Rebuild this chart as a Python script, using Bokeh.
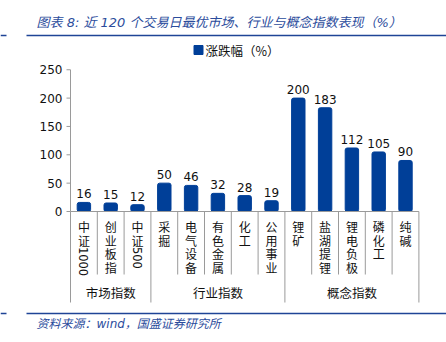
from bokeh.plotting import figure
from bokeh.models import Range1d
from bokeh.core.properties import value
from bokeh.embed import file_html
from bokeh.resources import INLINE

# ---- data ----
categories = ["中证1000", "创业板指", "中证500", "采掘", "电气设备", "有色金属", "化工",
              "公用事业", "锂矿", "盐湖提锂", "锂电负极", "磷化工", "纯碱"]
changes = [16, 15, 12, 50, 46, 32, 28, 19, 200, 183, 112, 105, 90]
groups = ["市场指数", "行业指数", "概念指数"]
group_sizes = [3, 5, 5]
y_ticks = [0, 50, 100, 150, 200, 250]
title_text = "图表 8:  近 120 个交易日最优市场、行业与概念指数表现（%）"
legend_text = "涨跌幅（%）"
source_text = "资料来源：wind，国盛证券研究所"

# ---- layout (pixel geometry) ----
W, H = 446, 342
SX = 26.8      # px per category slot
X0 = 83.4      # px of first category centre
PY = 0.567     # px per value unit
Y0 = 211.0     # px of value 0
CH = 13.6      # px per stacked character

def X(px):
    return (px - X0) / SX

def Y(py):
    return (Y0 - py) / PY

BAR = "#003f98"
AXIS = "#9a9a9a"
BLUE_T = "#2b4c9c"
BLUE_L = "#1f4496"
CJK = value("Noto Sans CJK SC")
NUM = value("DejaVu Sans")
MIX = value("DejaVu Sans, Noto Sans CJK SC")

p = figure(width=W, height=H, x_range=Range1d(X(0), X(W)), y_range=Range1d(Y(H), Y(0)),
           toolbar_location=None, output_backend="svg", min_border=0,
           x_axis_location=None, y_axis_location=None, outline_line_color=None)
p.grid.visible = False
p.background_fill_color = "white"
p.border_fill_color = "white"

n = len(categories)
idx = list(range(n))

# bars
p.vbar(x=idx, top=changes, width=0.5, color=BAR, border_radius=2)

# value labels
p.text(x=idx, y=changes, text=[str(v) for v in changes], text_align="center",
       text_baseline="bottom", y_offset=-4, text_font=NUM, text_font_size="12px",
       text_color="#111111")

# y axis
p.segment(x0=[-0.5], y0=[0], x1=[-0.5], y1=[max(y_ticks)], line_color=AXIS, line_width=1)
p.segment(x0=[X(66)] * len(y_ticks), y0=y_ticks, x1=[-0.5] * len(y_ticks), y1=y_ticks,
          line_color=AXIS, line_width=1)
p.text(x=[X(62)] * len(y_ticks), y=y_ticks, text=[str(t) for t in y_ticks],
       text_align="right", text_baseline="middle", text_font=NUM,
       text_font_size="12px", text_color="#111111")

# x axis line
p.segment(x0=[-0.5], y0=[0], x1=[n - 0.5], y1=[0], line_color=AXIS, line_width=1)

# separators
bounds = [-0.5]
acc = 0
for s in group_sizes:
    acc += s
    bounds.append(acc - 0.5)
inner = [i + 0.5 for i in range(n - 1) if (i + 0.5) not in bounds]
p.segment(x0=inner, y0=[0] * len(inner), x1=inner, y1=[Y(274)] * len(inner),
          line_color=AXIS, line_width=1)
p.segment(x0=bounds, y0=[0] * len(bounds), x1=bounds, y1=[Y(302)] * len(bounds),
          line_color=AXIS, line_width=1)

# category labels (vertical stacking, one character per row)
cx, cy, ctext, dx, dy, dtext = [], [], [], [], [], []
for i, c in enumerate(categories):
    chars = [ch for ch in c if not ch.isdigit()]
    digits = "".join(ch for ch in c if ch.isdigit())
    for k, ch in enumerate(chars):
        cx.append(i)
        cy.append(Y(226 + k * CH))
        ctext.append(ch)
    if digits:
        dx.append(i)
        dy.append(Y(226 + len(chars) * CH - CH / 2))
        dtext.append(digits)
p.text(x=cx, y=cy, text=ctext, text_align="center", text_baseline="middle",
       text_font=CJK, text_font_size="12px", text_color="#111111")
p.text(x=dx, y=dy, text=dtext, angle=-1.5707963, text_align="left",
       text_baseline="middle", text_font=NUM, text_font_size="11.5px", text_color="#111111")

# group labels
gcenters = [(bounds[k] + bounds[k + 1]) / 2 for k in range(len(groups))]
p.text(x=gcenters, y=[Y(292)] * len(groups), text=groups, text_align="center",
       text_baseline="middle", text_font=CJK, text_font_size="12.5px", text_color="#111111")

# legend
p.scatter(x=[X(198)], y=[Y(49.5)], marker="square", size=9, color=BAR)
p.text(x=[X(205)], y=[Y(50)], text=[legend_text], text_align="left", text_baseline="middle",
       text_font=CJK, text_font_size="12.5px", text_color="#111111")

# title + rules
p.text(x=[X(36)], y=[Y(22)], text=[title_text], text_align="left", text_baseline="middle",
       text_font=MIX, text_font_size="13px", text_font_style="italic", text_color=BLUE_T)
for yy in (35, 313):
    p.segment(x0=[X(26), X(0)], y0=[Y(yy)] * 2, x1=[X(W), X(6)], y1=[Y(yy)] * 2,
              line_color=BLUE_L, line_width=1.5)
p.text(x=[X(36)], y=[Y(323)], text=[source_text], text_align="left", text_baseline="middle",
       text_font=MIX, text_font_size="12px", text_font_style="italic", text_color=BLUE_T)

open("out.html", "w").write(file_html(p, INLINE))
